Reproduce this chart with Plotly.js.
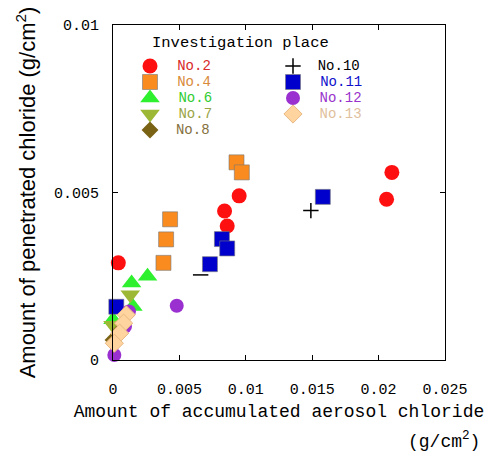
<!DOCTYPE html>
<html>
<head>
<meta charset="utf-8">
<script src="https://cdn.plot.ly/plotly-3.0.1.min.js"></script>
<style>html,body{margin:0;padding:0;background:#fff;}#chart{width:487px;height:461px;}</style>
</head>
<body>
<div id="chart"></div>
<script>
// Investigation places
const placeNames = ["No.2", "No.4", "No.6", "No.7", "No.8", "No.10", "No.11", "No.12", "No.13"];

// Amount of accumulated aerosol chloride (g/cm2) -> x ; penetrated chloride (g/cm2) -> y
const no2X  = [0.0004, 0.0095, 0.0084, 0.0086, 0.0210, 0.0206];
const no2Y  = [0.0029, 0.0049, 0.00445, 0.0040, 0.0056, 0.0048];
const no4X  = [0.0093, 0.0097, 0.0043, 0.0040, 0.0038];
const no4Y  = [0.0059, 0.0056, 0.0042, 0.0036, 0.0029];
const no6X  = [0.0026, 0.0014, 0.0015, 0.0000];
const no6Y  = [0.0025, 0.0023, 0.0016, 0.0012];
const no7X  = [0.0013, 0.0000];
const no7Y  = [0.00195, 0.00104];
const no8X  = [0.0006, 0.0000];
const no8Y  = [0.0009, 0.0006];
const no10X = [0.0149, 0.0066];
const no10Y = [0.00446, 0.00254];
const no11X = [0.0158, 0.0082, 0.0086, 0.0073, 0.00025];
const no11Y = [0.00487, 0.00361, 0.00333, 0.00286, 0.00159];
const no12X = [0.0048, 0.0012, 0.0009, 0.0001];
const no12Y = [0.00162, 0.00145, 0.0010, 0.00015];
const no13X = [0.0010, 0.0008, 0.0005, 0.0001];
const no13Y = [0.00135, 0.0011, 0.0008, 0.0005];

const xTickVals = [0, 0.005, 0.01, 0.015, 0.02, 0.025];
const xTickText = ["0", "0.005", "0.01", "0.015", "0.02", "0.025"];
const yTickVals = [0, 0.005, 0.01];
const yTickText = ["0", "0.005", "0.01"];
const legendTitle = "Investigation place";

const MONO = "Liberation Mono, DejaVu Sans Mono, monospace";
const SANS = "Liberation Sans, Arial, sans-serif";

const specs = [
  {x: no2X,  y: no2Y,  color: "#ff1010", text: "#d82a2a", symbol: "circle",        size: 15},
  {x: no4X,  y: no4Y,  color: "#f98b1f", text: "#d98a3a", symbol: "square",        size: 15, line: "rgba(120,120,120,0.6)"},
  {x: no6X,  y: no6Y,  color: "#2ef02e", text: "#30cc30", symbol: "triangle-up",   size: 17},
  {x: no7X,  y: no7Y,  color: "#9cb834", text: "#9aa445", symbol: "triangle-down", size: 17},
  {x: no8X,  y: no8Y,  color: "#7a6214", text: "#857040", symbol: "diamond",       size: 13},
  {x: no10X, y: no10Y, color: "#000000", text: "#000000", symbol: ["cross-thin", "line-ew"], size: 11, thin: true},
  {x: no11X, y: no11Y, color: "#0000cc", text: "#1010cc", symbol: "square",        size: 15, line: "rgba(120,120,120,0.6)"},
  {x: no12X, y: no12Y, color: "#9a30d0", text: "#9933cc", symbol: "circle",        size: 14},
  {x: no13X, y: no13Y, color: "#ffd49e", text: "#dfc09e", symbol: "diamond",       size: 14, line: "#e8b882"}
];

function markerOf(s, legendItem) {
  const sym = Array.isArray(s.symbol) ? (legendItem ? s.symbol[0] : s.symbol) : s.symbol;
  const m = {color: s.color, symbol: sym, size: s.size};
  if (s.thin) m.line = {color: s.color, width: 1.5};
  else if (s.line) m.line = {color: s.line, width: 1};
  else m.line = {width: 0};
  return m;
}

// data traces
const dataTraces = specs.map((s, i) => ({
  type: "scatter", mode: "markers",
  x: s.x, y: s.y,
  name: placeNames[i],
  showlegend: false,
  marker: markerOf(s, false),
  cliponaxis: false,
  hoverinfo: "x+y"
}));

// legend key: two columns (5 + 4 rows), drawn on a hidden overlay grid axis
const ROWS_PER_COL = 5;
const legendTraces = specs.map((s, i) => ({
  type: "scatter", mode: "markers+text",
  xaxis: "x2", yaxis: "y2",
  x: [Math.floor(i / ROWS_PER_COL)],
  y: [i % ROWS_PER_COL],
  text: ["&nbsp;&nbsp;" + placeNames[i]],
  textposition: "middle right",
  textfont: {family: MONO, size: 14, color: s.text},
  name: placeNames[i] + " key",
  showlegend: false,
  marker: markerOf(s, true),
  cliponaxis: false,
  hoverinfo: "skip"
}));

// legend grid geometry (pixels within plot area 332 x 335)
const PLOT_W = 332, PLOT_H = 335;
const COL0 = 37, COL_STEP = 143, ROW0 = 41, ROW_STEP = 16;

const layout = {
  width: 487, height: 461,
  margin: {l: 113, r: 42, t: 25, b: 101, pad: 0},
  paper_bgcolor: "#ffffff", plot_bgcolor: "#ffffff",
  font: {family: MONO, color: "#000"},
  showlegend: false,
  xaxis: {
    range: [0, 0.025], autorange: false,
    tickmode: "array", tickvals: xTickVals, ticktext: xTickText,
    ticks: "inside", ticklen: 5, tickwidth: 1, tickcolor: "#000",
    showline: true, linecolor: "#000", linewidth: 1, mirror: "ticks",
    showgrid: false, zeroline: false,
    tickfont: {family: MONO, size: 15, color: "#000"},
    ticklabelstandoff: 15,
    title: {text: "Amount of accumulated aerosol chloride", font: {family: MONO, size: 18, color: "#000"}, standoff: 6}
  },
  yaxis: {
    range: [0, 0.01], autorange: false,
    tickmode: "array", tickvals: yTickVals, ticktext: yTickText,
    ticks: "inside", ticklen: 5, tickwidth: 1, tickcolor: "#000",
    showline: true, linecolor: "#000", linewidth: 1, mirror: "ticks",
    showgrid: false, zeroline: false,
    tickfont: {family: MONO, size: 15, color: "#000"},
    ticklabelstandoff: 10,
    title: {text: "Amount of penetrated chloride (g/cm<sup>2</sup>)", font: {family: SANS, size: 22, color: "#000"}, standoff: 12}
  },
  xaxis2: {
    overlaying: "x", anchor: "y2", visible: false, fixedrange: true,
    range: [-COL0 / COL_STEP, (PLOT_W - COL0) / COL_STEP], autorange: false,
    showgrid: false, zeroline: false
  },
  yaxis2: {
    overlaying: "y", anchor: "x2", visible: false, fixedrange: true,
    range: [(PLOT_H - ROW0) / ROW_STEP, -ROW0 / ROW_STEP], autorange: false,
    showgrid: false, zeroline: false
  },
  annotations: [
    {
      xref: "paper", yref: "paper", x: COL0 / PLOT_W, y: 1 - 18 / PLOT_H,
      xanchor: "left", yanchor: "middle",
      text: legendTitle, showarrow: false,
      font: {family: MONO, size: 15.5, color: "#000"}
    },
    {
      xref: "paper", yref: "paper", x: 1.111, y: -0.239, xanchor: "right", yanchor: "middle",
      text: "(g/cm<sup>2</sup>)", showarrow: false,
      font: {family: MONO, size: 18, color: "#000"}
    }
  ]
};

Plotly.newPlot("chart", dataTraces.concat(legendTraces), layout, {displayModeBar: false, staticPlot: true});
</script>
</body>
</html>
